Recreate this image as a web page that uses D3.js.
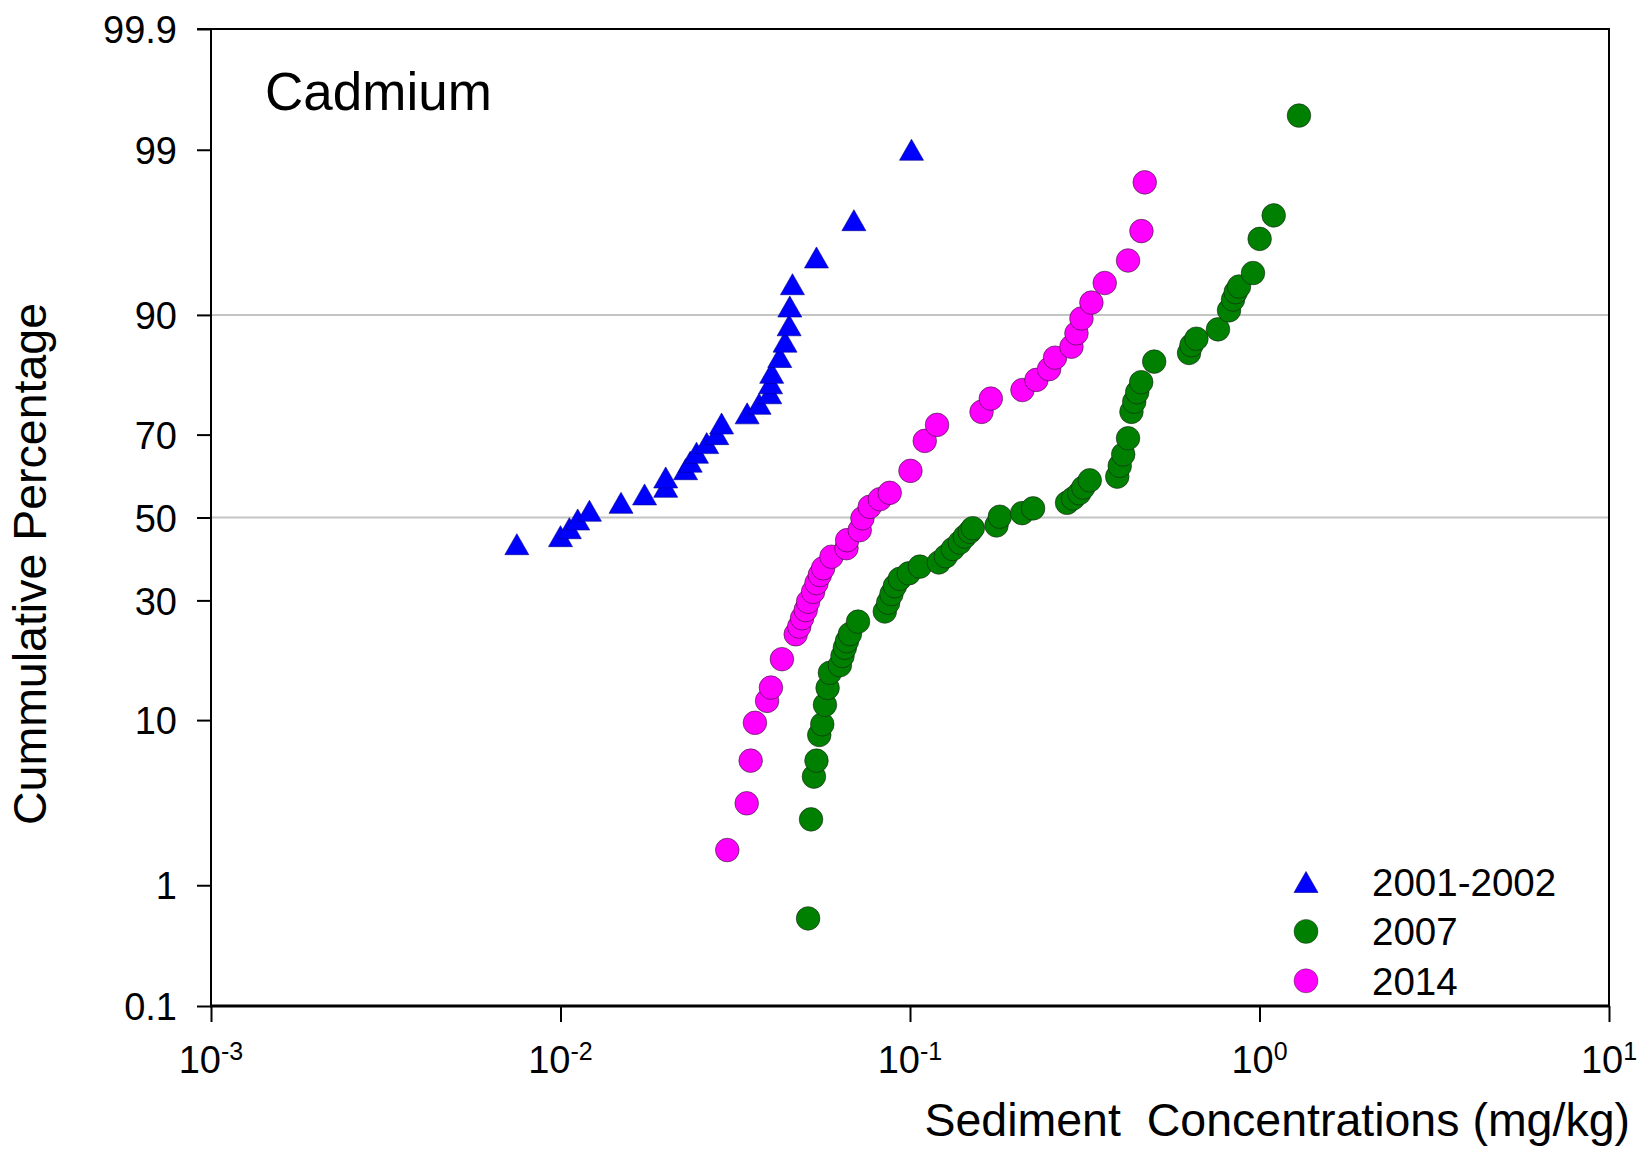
<!DOCTYPE html>
<html>
<head>
<meta charset="utf-8">
<script src="https://cdn.jsdelivr.net/npm/d3@7"></script>
<style>
  body { margin: 0; background: #fff; }
  svg { display: block; }
  text { font-family: Arial, "Liberation Sans", sans-serif; fill: #000; }
</style>
</head>
<body>
<div id="chart"></div>
<script>
// values: concentration (mg/kg) and cumulative percentage
const blueX = [0.0075, 0.0100, 0.0106, 0.0112, 0.0121, 0.0149, 0.0174, 0.0200, 0.0200, 0.0228,
  0.0235, 0.0245, 0.0262, 0.0280, 0.0289, 0.0342, 0.0370, 0.0397, 0.0399, 0.0402,
  0.0424, 0.0439, 0.0451, 0.0453, 0.0461, 0.0540, 0.0691, 0.1010];
const blueP = [43.3, 45.3, 47.3, 49.5, 51.7, 53.7, 55.8, 57.7, 60.0, 62.0,
  63.8, 65.9, 68.1, 70.1, 72.4, 74.5, 76.4, 78.4, 80.2, 82.0,
  84.5, 86.7, 88.8, 90.9, 93.0, 95.0, 97.0, 99.0];

const greenX = [0.0511, 0.0521, 0.0531, 0.0540, 0.0550, 0.0561, 0.0571, 0.0581, 0.0590, 0.0630,
  0.0641, 0.0651, 0.0660, 0.0673, 0.0710, 0.0847, 0.0866, 0.0885, 0.0905, 0.0935,
  0.0992, 0.1067, 0.1209, 0.1266, 0.1326, 0.1388, 0.1435, 0.1483, 0.1512, 0.1768,
  0.1807, 0.2093, 0.2250, 0.2814, 0.2928, 0.3050, 0.3131, 0.3268, 0.3917, 0.3982,
  0.4074, 0.4206, 0.4301, 0.4381, 0.4468, 0.4587, 0.4997, 0.6287, 0.6387, 0.6600,
  0.7607, 0.8181, 0.8399, 0.8549, 0.8738, 0.9581, 1.001, 1.098, 1.297];
const greenP = [0.56, 2.81, 5.06, 6.2, 8.44, 9.54, 11.8, 14.05, 16.3, 17.5,
  19.05, 20.5, 21.7, 23.05, 25.5, 27.6, 29.5, 31.4, 33.2, 34.9,
  36.2, 37.8, 38.8, 40.3, 42.1, 43.7, 45.2, 46.4, 47.3, 48.0,
  50.2, 51.1, 52.3, 53.7, 54.8, 56.1, 57.5, 59.3, 60.2, 62.8,
  65.5, 69.2, 74.8, 76.8, 78.6, 80.4, 83.8, 85.1, 86.2, 87.1,
  88.3, 90.5, 91.6, 92.3, 92.8, 93.9, 96.1, 97.2, 99.45];

const magentaX = [0.0300, 0.0341, 0.0350, 0.0360, 0.0390, 0.0400, 0.0430, 0.0471, 0.0482, 0.0491,
  0.0503, 0.0511, 0.0528, 0.0540, 0.0552, 0.0564, 0.0596, 0.0658, 0.0661, 0.0718,
  0.0731, 0.0767, 0.0820, 0.0875, 0.1003, 0.1102, 0.1195, 0.1602, 0.1703, 0.2098,
  0.2300, 0.2500, 0.2600, 0.2897, 0.2994, 0.3094, 0.3304, 0.3607, 0.4206, 0.4594, 0.4695];
const magentaP = [1.77, 3.53, 6.2, 9.7, 12.3, 14.1, 18.5, 23.0, 24.5, 26.2,
  27.9, 29.7, 31.9, 33.9, 35.8, 37.4, 40.2, 42.3, 44.3, 46.8,
  49.8, 52.7, 54.6, 56.2, 61.6, 68.6, 72.1, 74.8, 77.4, 79.0,
  80.8, 82.6, 84.4, 86.0, 87.8, 89.6, 91.3, 93.1, 94.8, 96.5, 98.3];

const yTicks = [0.1, 1, 10, 30, 50, 70, 90, 99, 99.9];
const yGrid = [50, 90];
const xTicks = [1e-3, 1e-2, 1e-1, 1e0, 1e1];
const xTickExp = ["-3", "-2", "-1", "0", "1"];

const seriesNames = ["2001-2002", "2007", "2014"];
const seriesColors = ["#0000ff", "#008000", "#ff00ff"];

// inverse normal cdf (Acklam), used for the probability axis
function probit(p) {
  const a = [-3.969683028665376e+01, 2.209460984245205e+02, -2.759285104469687e+02,
    1.383577518672690e+02, -3.066479806614716e+01, 2.506628277459239e+00];
  const b = [-5.447609879822406e+01, 1.615858368580409e+02, -1.556989798598866e+02,
    6.680131188771972e+01, -1.328068155288572e+01];
  const c = [-7.784894002430293e-03, -3.223964580411365e-01, -2.400758277161838e+00,
    -2.549732539343734e+00, 4.374664141464968e+00, 2.938163982698783e+00];
  const d = [7.784695709041462e-03, 3.224671290700398e-01, 2.445134137142996e+00,
    3.754408661907416e+00];
  const pl = 0.02425;
  let q, r;
  if (p < pl) {
    q = Math.sqrt(-2 * Math.log(p));
    return (((((c[0] * q + c[1]) * q + c[2]) * q + c[3]) * q + c[4]) * q + c[5]) /
      ((((d[0] * q + d[1]) * q + d[2]) * q + d[3]) * q + 1);
  }
  if (p <= 1 - pl) {
    q = p - 0.5;
    r = q * q;
    return (((((a[0] * r + a[1]) * r + a[2]) * r + a[3]) * r + a[4]) * r + a[5]) * q /
      (((((b[0] * r + b[1]) * r + b[2]) * r + b[3]) * r + b[4]) * r + 1);
  }
  q = Math.sqrt(-2 * Math.log(1 - p));
  return -(((((c[0] * q + c[1]) * q + c[2]) * q + c[3]) * q + c[4]) * q + c[5]) /
    ((((d[0] * q + d[1]) * q + d[2]) * q + d[3]) * q + 1);
}

const W = 1642, H = 1149;
const plotLeft = 211, plotRight = 1609, plotTop = 29, plotBottom = 1006;

const svg = d3.select("#chart")
  .append("svg")
  .attr("width", W)
  .attr("height", H);

const x = d3.scaleLog().domain([1e-3, 10]).range([plotLeft, plotRight]);
const z = d3.scaleLinear()
  .domain([probit(0.001), probit(0.999)])
  .range([plotBottom, plotTop]);
const y = (p) => z(probit(p / 100));

// grid lines
svg.append("g")
  .selectAll("line")
  .data(yGrid)
  .enter()
  .append("line")
  .attr("x1", plotLeft)
  .attr("x2", plotRight)
  .attr("y1", (d) => y(d))
  .attr("y2", (d) => y(d))
  .attr("stroke", "#c4c4c4")
  .attr("stroke-width", 2);

// y axis
const yAxis = svg.append("g")
  .attr("transform", `translate(${plotLeft},0)`)
  .call(d3.axisLeft(z)
    .tickValues(yTicks.map((p) => probit(p / 100)))
    .tickFormat((d, i) => String(yTicks[i]))
    .tickSize(14)
    .tickSizeOuter(0)
    .tickPadding(20));
yAxis.select(".domain").remove();
yAxis.selectAll(".tick line").attr("stroke", "#000").attr("stroke-width", 2);
yAxis.selectAll(".tick text")
  .attr("font-size", 38)
  .attr("font-family", "Arial, 'Liberation Sans', sans-serif")
  .attr("dy", "0.36em");

// x axis
const xAxis = svg.append("g")
  .attr("transform", `translate(0,${plotBottom})`)
  .call(d3.axisBottom(x)
    .tickValues(xTicks)
    .tickFormat("")
    .tickSize(16)
    .tickSizeOuter(0));
xAxis.select(".domain").remove();
xAxis.selectAll(".tick line").attr("stroke", "#000").attr("stroke-width", 2);

const xLabels = svg.append("g")
  .selectAll("text")
  .data(xTicks)
  .enter()
  .append("text")
  .attr("x", (d) => x(d))
  .attr("y", 1073)
  .attr("text-anchor", "middle")
  .attr("font-size", 38);
xLabels.append("tspan").text("10");
xLabels.append("tspan")
  .attr("font-size", 25)
  .attr("dy", -13)
  .text((d, i) => xTickExp[i]);

// frame
svg.append("line").attr("x1", plotLeft).attr("x2", plotLeft).attr("y1", plotTop - 1).attr("y2", plotBottom)
  .attr("stroke", "#000").attr("stroke-width", 2);
svg.append("line").attr("x1", plotRight).attr("x2", plotRight).attr("y1", plotTop - 1).attr("y2", plotBottom)
  .attr("stroke", "#000").attr("stroke-width", 2);
svg.append("line").attr("x1", plotLeft - 14).attr("x2", plotRight + 1).attr("y1", plotTop).attr("y2", plotTop)
  .attr("stroke", "#000").attr("stroke-width", 2);
svg.append("line").attr("x1", plotLeft - 1).attr("x2", plotRight + 1).attr("y1", plotBottom).attr("y2", plotBottom)
  .attr("stroke", "#000").attr("stroke-width", 3);

// axis titles
svg.append("text")
  .attr("x", 1630)
  .attr("y", 1136)
  .attr("text-anchor", "end")
  .attr("font-size", 46.5)
  .attr("xml:space", "preserve")
  .text("Sediment  Concentrations (mg/kg)");

svg.append("text")
  .attr("transform", "translate(46,564) rotate(-90)")
  .attr("text-anchor", "middle")
  .attr("font-size", 46.5)
  .text("Cummulative Percentage");

svg.append("text")
  .attr("x", 265)
  .attr("y", 110)
  .attr("font-size", 53)
  .text("Cadmium");

// markers
const triangle = "M0,-10.5L12,10.5L-12,10.5Z";

svg.append("g")
  .selectAll("path")
  .data(blueX.map((v, i) => ({ x: v, p: blueP[i] })))
  .enter()
  .append("path")
  .attr("d", triangle)
  .attr("transform", (d) => `translate(${x(d.x)},${y(d.p)})`)
  .attr("fill", seriesColors[0])
  .attr("stroke", "#00008a")
  .attr("stroke-width", 0.6);

const circleSeries = [
  { xs: greenX, ps: greenP, color: seriesColors[1] },
  { xs: magentaX, ps: magentaP, color: seriesColors[2] },
];

circleSeries.forEach((s) => {
  svg.append("g")
    .selectAll("circle")
    .data(s.xs.map((v, i) => ({ x: v, p: s.ps[i] })))
    .enter()
    .append("circle")
    .attr("cx", (d) => x(d.x))
    .attr("cy", (d) => y(d.p))
    .attr("r", 11.8)
    .attr("fill", s.color)
    .attr("stroke", "#1a1a1a")
    .attr("stroke-opacity", 0.7)
    .attr("stroke-width", 0.8);
});

// legend
const legend = svg.append("g").attr("transform", "translate(1306,882)");
const rows = legend.selectAll("g")
  .data(seriesNames)
  .enter()
  .append("g")
  .attr("transform", (d, i) => `translate(0,${i * 49.4})`);

rows.each(function (d, i) {
  const g = d3.select(this);
  if (i === 0) {
    g.append("path").attr("d", triangle).attr("fill", seriesColors[0])
      .attr("stroke", "#00008a").attr("stroke-width", 0.6);
  } else {
    g.append("circle").attr("r", 12).attr("fill", seriesColors[i])
      .attr("stroke", "#1a1a1a").attr("stroke-opacity", 0.5).attr("stroke-width", 0.8);
  }
  g.append("text")
    .attr("x", 66)
    .attr("y", 14)
    .attr("font-size", 38.5)
    .text(d);
});
</script>
</body>
</html>
